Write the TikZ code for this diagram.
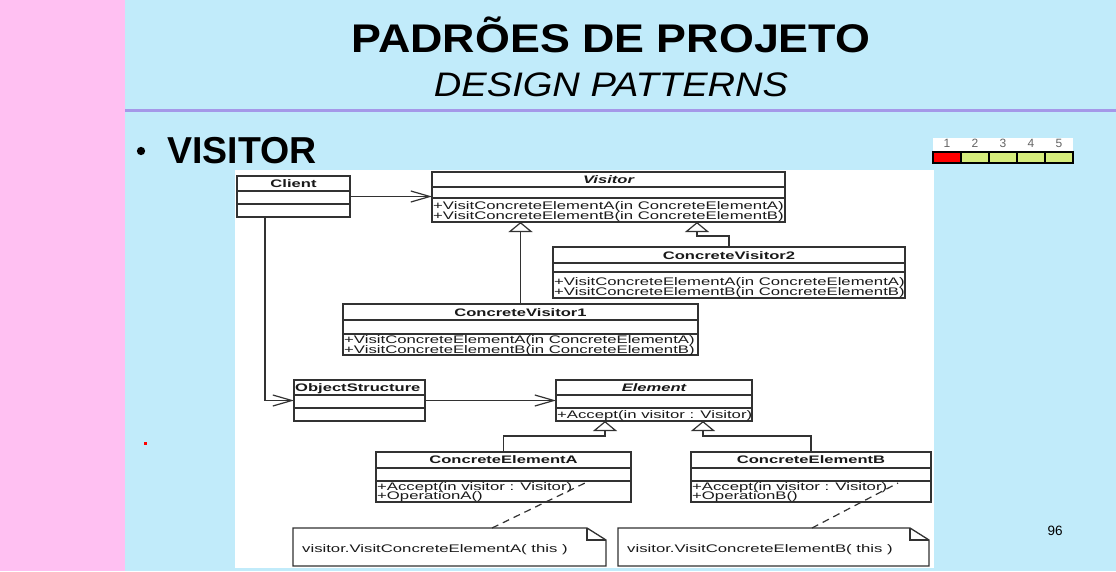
\documentclass[tikz,border=0pt]{standalone}
\usepackage{fontspec}
\setmainfont{Liberation Sans}
\newfontfamily\umlfont[FakeStretch=1.52]{Liberation Sans}
\newfontfamily\titlefont[FakeStretch=1.12]{Liberation Sans}
\usetikzlibrary{arrows.meta}
\definecolor{pinkbg}{RGB}{255,192,242}
\definecolor{bluebg}{RGB}{193,235,250}
\definecolor{rulec}{RGB}{165,152,232}
\definecolor{linec}{RGB}{50,50,50}
\definecolor{txtc}{RGB}{25,25,25}
\definecolor{cellyel}{RGB}{214,236,124}
\definecolor{numgray}{RGB}{100,100,100}
\newcommand{\umlrm}{\umlfont\fontsize{11}{11}\selectfont}
\newcommand{\umlbf}{\umlfont\bfseries\fontsize{10.9}{11}\selectfont}
\newcommand{\umlbi}{\umlfont\bfseries\itshape\fontsize{10.9}{11}\selectfont}
\tikzset{
  classbox/.style={draw=linec, line width=1.3pt, fill=white, inner sep=0pt, outer sep=0pt},
  divline/.style={draw=linec, line width=1.2pt},
  cname/.style={font=\umlbf, anchor=mid, text=txtc, inner sep=0pt, yshift=-1.5pt},
  aname/.style={font=\umlbi, anchor=mid, text=txtc, inner sep=0pt, yshift=-1.5pt},
  meth/.style={font=\umlrm, anchor=mid west, text=txtc, inner sep=0pt, yshift=-1.5pt},
  assoc/.style={draw=linec, line width=1.2pt, -{Straight Barb[length=19pt,width=11pt]}},
  gen/.style={draw=linec, line width=1.2pt, -{Triangle[open,length=10pt,width=24pt,fill=white]}},
  notelink/.style={draw=linec, line width=1.2pt, dash pattern=on 7pt off 5pt},
  notebox/.style={inner sep=0pt, outer sep=0pt},
  cell/.style={draw=black, line width=1.5pt, inner sep=0pt, minimum width=28pt, minimum height=11pt},
  cellnum/.style={font=\fontsize{12}{12}\selectfont, text=numgray, anchor=mid, inner sep=0pt}
}
\begin{document}
\begin{tikzpicture}[x=1pt,y=-1pt]
\useasboundingbox (0,0) rectangle (1116,571);
% slide background
\fill[bluebg] (0,0) rectangle (1116,571);
\fill[pinkbg] (0,0) rectangle (125,571);
\draw[rulec, line width=3pt] (125,110) -- (1116,110);
\node[anchor=base, font=\titlefont\bfseries\fontsize{40}{40}\selectfont, text=black, inner sep=0pt] (title) at (611,52) {PADRÕES DE PROJETO};
\node[anchor=base, font=\titlefont\itshape\fontsize{34}{34}\selectfont, text=black, inner sep=0pt] (subtitle) at (611,96) {DESIGN PATTERNS};
\node[circle, fill=black, minimum size=8.3pt, inner sep=0pt] (bullet) at (141,151) {};
\node[anchor=base west, font=\bfseries\fontsize{37.5}{37.5}\selectfont, text=black, inner sep=0pt] (heading) at (167,163) {VISITOR};
\fill[red] (143.5,441.5) rectangle (146.5,445);
\node[anchor=mid, font=\fontsize{13.5}{13.5}\selectfont, text=black, inner sep=0pt] (pagenum) at (1055,533) {96};
% progress bar
\fill[white] (933,138) rectangle (1073,164);
\node[cell, fill=red] (c1) at (947,157.5) {};
\node[cell, fill=cellyel] (c2) at (975,157.5) {};
\node[cell, fill=cellyel] (c3) at (1003,157.5) {};
\node[cell, fill=cellyel] (c4) at (1031,157.5) {};
\node[cell, fill=cellyel] (c5) at (1059,157.5) {};
\node[cellnum] (n1) at (947,145) {1};
\node[cellnum] (n2) at (975,145) {2};
\node[cellnum] (n3) at (1003,145) {3};
\node[cellnum] (n4) at (1031,145) {4};
\node[cellnum] (n5) at (1059,145) {5};
% diagram background
\fill[white] (235,170) rectangle (934,568);
% classes
\node[classbox, minimum width=113pt, minimum height=41pt] (client) at (293.5,196.5) {};
\draw[divline] (client.west |- 0,191) -- (client.east |- 0,191);
\draw[divline] (client.west |- 0,204) -- (client.east |- 0,204);
\node[cname] (clientname) at (293.5,183.5) {Client};

\node[classbox, minimum width=353pt, minimum height=50pt] (visitor) at (608.5,197) {};
\draw[divline] (visitor.west |- 0,187) -- (visitor.east |- 0,187);
\draw[divline] (visitor.west |- 0,198) -- (visitor.east |- 0,198);
\node[aname] (visitorname) at (608.5,179.5) {Visitor};
\node[meth] (vm1) at (433,205.5) {+VisitConcreteElementA(in ConcreteElementA)};
\node[meth] (vm2) at (433,215.5) {+VisitConcreteElementB(in ConcreteElementB)};

\node[classbox, minimum width=352pt, minimum height=51pt] (cv2) at (729,272.5) {};
\draw[divline] (cv2.west |- 0,263) -- (cv2.east |- 0,263);
\draw[divline] (cv2.west |- 0,272) -- (cv2.east |- 0,272);
\node[cname] (cv2name) at (729,255) {ConcreteVisitor2};
\node[meth] (cv2m1) at (554,281.5) {+VisitConcreteElementA(in ConcreteElementA)};
\node[meth] (cv2m2) at (554,291.5) {+VisitConcreteElementB(in ConcreteElementB)};

\node[classbox, minimum width=355pt, minimum height=51pt] (cv1) at (520.5,329.5) {};
\draw[divline] (cv1.west |- 0,320) -- (cv1.east |- 0,320);
\draw[divline] (cv1.west |- 0,334) -- (cv1.east |- 0,334);
\node[cname] (cv1name) at (520.5,312) {ConcreteVisitor1};
\node[meth] (cv1m1) at (344,339.5) {+VisitConcreteElementA(in ConcreteElementA)};
\node[meth] (cv1m2) at (344,349) {+VisitConcreteElementB(in ConcreteElementB)};

\node[classbox, minimum width=131pt, minimum height=41pt] (objstr) at (359.5,400.5) {};
\draw[divline] (objstr.west |- 0,395) -- (objstr.east |- 0,395);
\draw[divline] (objstr.west |- 0,408) -- (objstr.east |- 0,408);
\node[cname, anchor=mid west] (objstrname) at (295,387) {ObjectStructure};

\node[classbox, minimum width=196pt, minimum height=41pt] (element) at (654,400.5) {};
\draw[divline] (element.west |- 0,395) -- (element.east |- 0,395);
\draw[divline] (element.west |- 0,408) -- (element.east |- 0,408);
\node[aname] (elementname) at (654,387) {Element};
\node[meth] (em1) at (557,414) {+Accept(in visitor : Visitor)};

\node[classbox, minimum width=255pt, minimum height=50pt] (cea) at (503.5,477) {};
\draw[divline] (cea.west |- 0,468) -- (cea.east |- 0,468);
\draw[divline] (cea.west |- 0,481) -- (cea.east |- 0,481);
\node[cname] (ceaname) at (503.5,459.5) {ConcreteElementA};
\node[meth] (ceam1) at (377,486.5) {+Accept(in visitor : Visitor)};
\node[meth] (ceam2) at (377,495.5) {+OperationA()};

\node[classbox, minimum width=240pt, minimum height=50pt] (ceb) at (811,477) {};
\draw[divline] (ceb.west |- 0,468) -- (ceb.east |- 0,468);
\draw[divline] (ceb.west |- 0,481) -- (ceb.east |- 0,481);
\node[cname] (cebname) at (811,459.5) {ConcreteElementB};
\node[meth] (cebm1) at (692,486.5) {+Accept(in visitor : Visitor)};
\node[meth] (cebm2) at (692,495.5) {+OperationB()};

% notes
\node[notebox, minimum width=313pt, minimum height=38pt] (noteA) at (449.5,547) {};
\draw[linec, line width=1.3pt, fill=white] (noteA.south west) -- (noteA.north west) -- ([xshift=-19pt]noteA.north east) -- ([yshift=-12pt]noteA.north east) -- (noteA.south east) -- cycle;
\draw[linec, line width=1.2pt] ([xshift=-19pt]noteA.north east) -- ([xshift=-19pt,yshift=-12pt]noteA.north east) -- ([yshift=-12pt]noteA.north east);
\node[meth] (noteAtext) at (302,548) {visitor.VisitConcreteElementA( this )};

\node[notebox, minimum width=311pt, minimum height=38pt] (noteB) at (773.5,547) {};
\draw[linec, line width=1.3pt, fill=white] (noteB.south west) -- (noteB.north west) -- ([xshift=-19pt]noteB.north east) -- ([yshift=-12pt]noteB.north east) -- (noteB.south east) -- cycle;
\draw[linec, line width=1.2pt] ([xshift=-19pt]noteB.north east) -- ([xshift=-19pt,yshift=-12pt]noteB.north east) -- ([yshift=-12pt]noteB.north east);
\node[meth] (noteBtext) at (627,548) {visitor.VisitConcreteElementB( this )};

% connectors
\draw[assoc] (client.east) -- (client.east -| visitor.west);
\draw[assoc] ([xshift=28pt]client.south west) |- (objstr.west);
\draw[assoc] (objstr.east) -- (element.west);
\draw[gen] (cv1.north) -- (cv1.north |- visitor.south);
\coordinate (b2) at (697,236);
\draw[gen] (cv2.north) |- (b2) -- (b2 |- visitor.south);
\coordinate (ea) at (605,436);
\draw[gen] (cea.north) |- (ea) -- (ea |- element.south);
\coordinate (eb) at (703,436);
\draw[gen] (ceb.north) |- (eb) -- (eb |- element.south);
\coordinate (ta) at (585,483);
\coordinate (tb) at (898,483);
\draw[notelink] (noteA.north -| 492,0) -- (ta);
\draw[notelink] (noteB.north -| 812,0) -- (tb);
\end{tikzpicture}
\end{document}
